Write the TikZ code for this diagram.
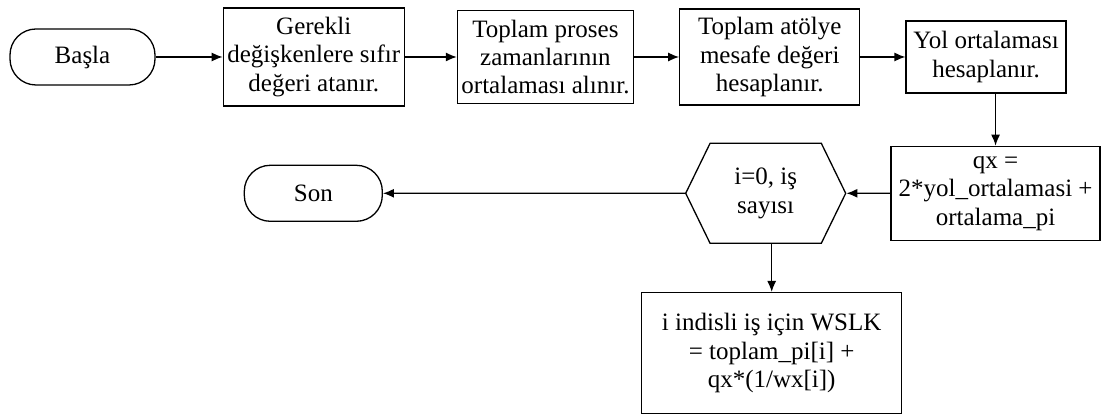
\documentclass[tikz,border=0pt]{standalone}
\usepackage{fontspec}
\setmainfont{Liberation Serif}
\usetikzlibrary{arrows.meta,positioning,shapes.symbols}

\begin{document}
\begin{tikzpicture}[
  font=\fontsize{12.5pt}{14.2pt}\selectfont,
  line width=0.65pt,
  box/.style={draw, align=center, inner xsep=2pt, inner ysep=2pt},
  term/.style={draw, rounded corners=13pt, minimum height=28pt},
  hexa/.style={draw, signal, signal to=east and west, signal pointer angle=128, minimum width=80pt, minimum height=50pt, align=center, inner sep=1pt},
  arr/.style={-{Latex[length=5.5pt,width=4.5pt]}}
]
\useasboundingbox (0,0) rectangle (550.5pt,-207.5pt);
\node[term, minimum width=72.5pt] (basla) at (41.25pt,-28.5pt) {Başla};
\node[box, minimum height=49pt, right=33.5pt of basla] (sifir) {Gerekli\\değişkenlere sıfır\\değeri atanır.};
\node[box, minimum height=46.5pt, right=26pt of sifir] (proses) {Toplam proses\\zamanlarının\\ortalaması alınır.};
\node[box, minimum width=90pt, minimum height=48pt, right=22.5pt of proses] (mesafe) {Toplam atölye\\mesafe değeri\\hesaplanır.};
\node[box, minimum width=80pt, minimum height=36pt, right=22.5pt of mesafe] (yol) {Yol ortalaması\\hesaplanır.};
\node[box, minimum width=104.5pt, minimum height=47pt, below=26pt of yol, xshift=4.75pt] (qx) {qx =\\2*yol\_ortalamasi +\\ortalama\_pi};
\node[hexa, left=22pt of qx] (dongu) {i=0, iş\\sayısı};
\node[term, minimum width=69pt, left=151pt of dongu] (son) {Son};
\node[box, minimum width=130pt, minimum height=60.5pt, below=24pt of dongu, xshift=3pt] (wslk) {i indisli iş için WSLK\\= toplam\_pi[i] +\\qx*(1/wx[i])};
\draw[arr] (basla) -- (sifir);
\draw[arr] (sifir) -- (proses);
\draw[arr] (proses) -- (mesafe);
\draw[arr] (mesafe) -- (yol);
\draw[arr] (yol.south -| qx.north) -- (qx.north);
\draw[arr] (qx) -- (dongu);
\draw[arr] (dongu) -- (son);
\draw[arr] (dongu.south -| wslk.north) -- (wslk.north);
\end{tikzpicture}
\end{document}
